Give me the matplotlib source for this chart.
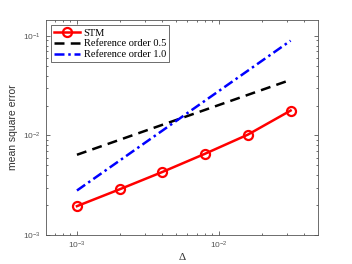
import numpy as np
import matplotlib
matplotlib.use("Agg")
import matplotlib.pyplot as plt
from matplotlib.ticker import LogLocator, NullFormatter

delta = [0.001, 0.002, 0.004, 0.008, 0.016, 0.032]
stm = [1.95e-3, 2.88e-3, 4.3e-3, 6.56e-3, 1.02e-2, 1.78e-2]
ref05 = [6.4e-3, 9.05e-3, 1.28e-2, 1.81e-2, 2.56e-2, 3.62e-2]
ref10 = [2.8e-3, 5.6e-3, 1.12e-2, 2.24e-2, 4.48e-2, 8.96e-2]
labels = ["STM", "Reference order 0.5", "Reference order 1.0"]

axc = "#555555"
fig = plt.figure(figsize=(3.52, 2.64), dpi=100)
ax = fig.add_axes([0.1307, 0.1098, 0.7723, 0.8144])
ax.plot(delta, stm, color="#ff0000", lw=1.8, marker="o", ms=6.5, mfc="none", mew=1.6, label=labels[0])
ax.plot(delta, ref05, color="black", lw=1.8, ls=(0, (4, 2.5)), label=labels[1])
ax.plot(delta, ref10, color="#0000ff", lw=1.8, ls=(0, (4, 1.5, 1, 1.5)), label=labels[2])
ax.set_xscale("log")
ax.set_yscale("log")
ax.set_xlim(10**-3.218, 10**-1.303)
ax.set_ylim(1e-3, 10**-0.84)
ax.xaxis.set_major_locator(LogLocator(base=10, numticks=10))
ax.yaxis.set_major_locator(LogLocator(base=10, numticks=10))
ax.xaxis.set_minor_locator(LogLocator(base=10, subs=np.arange(2, 10), numticks=20))
ax.yaxis.set_minor_locator(LogLocator(base=10, subs=np.arange(2, 10), numticks=20))
ax.xaxis.set_minor_formatter(NullFormatter())
ax.yaxis.set_minor_formatter(NullFormatter())
ax.tick_params(which="both", direction="in", top=True, right=True, colors=axc,
               labelsize=6, width=0.6)
ax.tick_params(which="major", length=3)
ax.tick_params(which="minor", length=1.7)
for lab in ax.get_xticklabels() + ax.get_yticklabels():
    lab.set_fontfamily("Liberation Sans")
for s in ax.spines.values():
    s.set_color(axc)
    s.set_linewidth(0.6)
ax.set_ylabel("mean square error", fontsize=7.5, family="Liberation Sans", color="#333333", labelpad=4)
ax.set_xlabel("Δ", fontsize=8, family="Liberation Serif", color="#333333", labelpad=1)
leg = ax.legend(loc="upper left", prop={"family": "Liberation Serif", "size": 7.5},
                fancybox=False, edgecolor=axc, handlelength=2.5, borderpad=0.3,
                labelspacing=0.15, handletextpad=0.3, borderaxespad=0.5, framealpha=1)
leg.get_frame().set_linewidth(0.6)
fig.savefig("out.png", dpi=100)
